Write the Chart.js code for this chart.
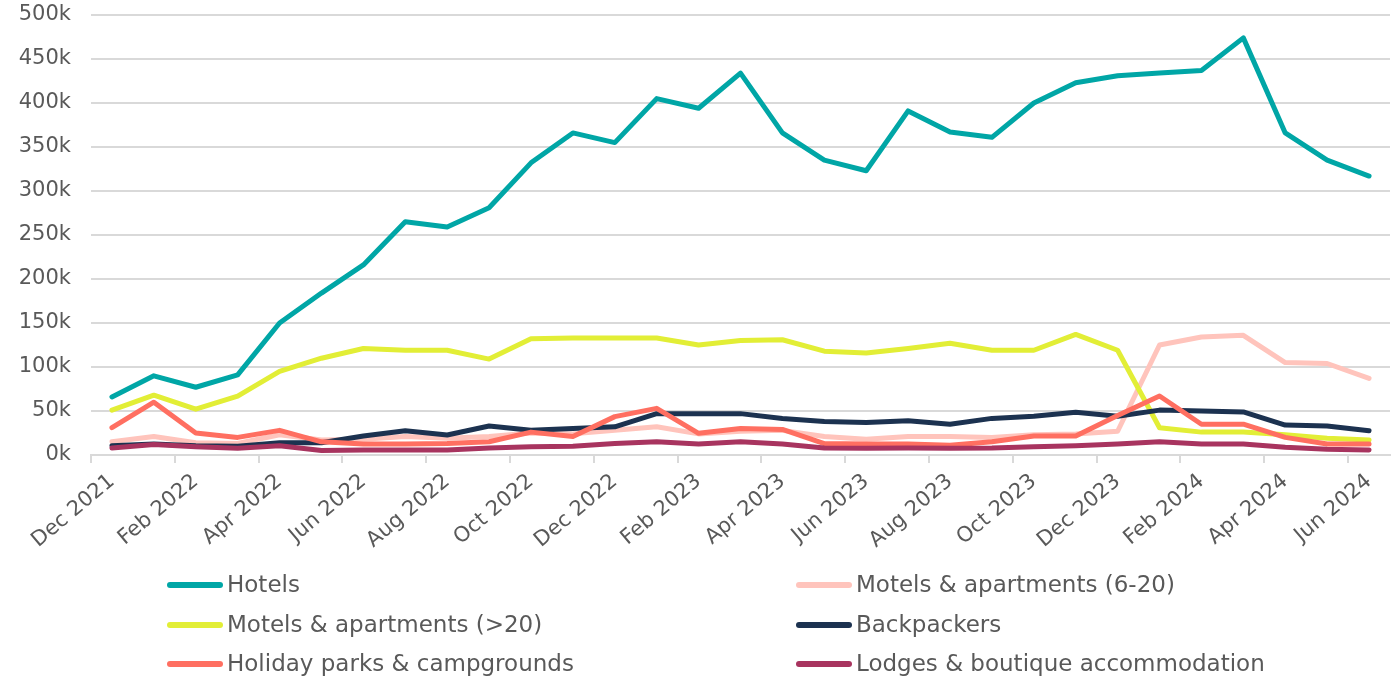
<!DOCTYPE html>
<html>
<head>
<meta charset="utf-8">
<script src="https://cdn.jsdelivr.net/npm/chart.js@4/dist/chart.umd.min.js"></script>
<style>
  html, body { margin: 0; padding: 0; background: #fff; }
  #wrap { width: 1400px; height: 680px; position: relative; }
</style>
</head>
<body>
<div id="wrap"><canvas id="c" width="1400" height="680"></canvas></div>
<script>
// months, Dec 2021 .. Jun 2024
var months = ["Dec 2021","Jan 2022","Feb 2022","Mar 2022","Apr 2022","May 2022","Jun 2022","Jul 2022","Aug 2022","Sep 2022","Oct 2022","Nov 2022",
  "Dec 2022","Jan 2023","Feb 2023","Mar 2023","Apr 2023","May 2023","Jun 2023","Jul 2023","Aug 2023","Sep 2023","Oct 2023","Nov 2023",
  "Dec 2023","Jan 2024","Feb 2024","Mar 2024","Apr 2024","May 2024","Jun 2024"];

// values in thousands
var hotels = [66,90,77,91,150,184,216,265,259,281,332,366,355,405,394,434,366,335,323,391,367,361,400,423,431,434,437,474,366,335,317];
var motelsSmall = [15,21,14,13,23,17,18,21,19,21,25,24,28,32,24,27,28,21,18,21,21,20,23,24,27,125,134,136,105,104,87];
var motelsLarge = [51,68,52,67,95,110,121,119,119,109,132,133,133,133,125,130,131,118,116,121,127,119,119,137,119,31,26,26,23,19,17];
var backpackers = [10.5,12.5,10.5,10,14,14,21.6,27.6,22.7,33,28,30,32,47,47,47,41.6,38,37,39,35,41.6,44,48.5,44,51,50,49,34,33,27.6];
var holidayParks = [31,60,25,20,28,15,12.5,12.5,13,15,26,21,43.6,53,24.6,30,29,13,12.5,12.5,11,15,21.6,21.6,45,67,35,35,20,12.5,12.5];
var lodges = [8,12,9.5,7.6,10.5,5,5.7,5.7,5.7,8,9.5,10,13,15,12.5,15,12.5,8,7.6,8,7.6,8,9.5,10.5,12.5,15,12.5,12.5,8.7,6.4,5.7];

var yTicks = [0,50,100,150,200,250,300,350,400,450,500];

var seriesNames = ["Hotels","Motels & apartments (6-20)","Motels & apartments (>20)","Backpackers","Holiday parks & campgrounds","Lodges & boutique accommodation"];
var seriesData = [hotels, motelsSmall, motelsLarge, backpackers, holidayParks, lodges];
var seriesColors = ["#00A6A6","#FFC4BC","#E2EE36","#1C3250","#FF6F61","#A8345F"];

var FONT = "'DejaVu Sans', sans-serif";

function k(v) { return v * 1000; }

var datasets = seriesNames.map(function(name, i) {
  return {
    label: name,
    data: seriesData[i].map(k),
    borderColor: seriesColors[i],
    backgroundColor: seriesColors[i],
    borderWidth: 5,
    pointRadius: 0,
    tension: 0,
    borderCapStyle: 'round',
    borderJoinStyle: 'round',
    order: seriesNames.length - i
  };
});

// two-column legend under the axis
var legendPlugin = {
  id: 'twoColLegend',
  afterDraw: function(chart) {
    var c = chart.ctx;
    var cols = [167, 796];
    var rows = [585, 625, 664];
    c.save();
    c.font = "23px " + FONT;
    c.textBaseline = 'middle';
    chart.data.datasets.forEach(function(ds, i) {
      var x = cols[i % 2], y = rows[Math.floor(i / 2)];
      c.strokeStyle = ds.borderColor;
      c.lineWidth = 6;
      c.lineCap = 'round';
      c.beginPath();
      c.moveTo(x + 3, y);
      c.lineTo(x + 53, y);
      c.stroke();
      c.fillStyle = '#595959';
      c.fillText(ds.label, x + 60, y + 1);
    });
    c.restore();
  }
};

new Chart(document.getElementById('c'), {
  type: 'line',
  data: { labels: months, datasets: datasets },
  plugins: [legendPlugin],
  options: {
    responsive: false,
    animation: false,
    layout: { padding: { top: 15, right: 10, left: 0, bottom: 0 } },
    plugins: { legend: { display: false }, tooltip: { enabled: false } },
    scales: {
      x: {
        offset: true,
        afterFit: function(s) { s.height = 225; s.paddingLeft = 0; s.paddingRight = 0; },
        grid: {
          offset: true,
          drawOnChartArea: false,
          drawTicks: true,
          tickLength: 8,
          lineWidth: 2,
          color: function(ctx) { return ctx.index % 2 === 0 ? '#d9d9d9' : 'rgba(0,0,0,0)'; }
        },
        border: { color: '#d9d9d9', width: 2 },
        ticks: {
          autoSkip: false,
          maxRotation: 40,
          minRotation: 40,
          padding: 6,
          color: '#595959',
          font: { family: FONT, size: 21 },
          callback: function(v, i) { return i % 2 === 0 ? months[i] : ''; }
        }
      },
      y: {
        min: 0,
        max: k(yTicks[yTicks.length - 1]),
        afterFit: function(s) { s.width = 91; s.paddingTop = 0; s.paddingBottom = 0; },
        afterBuildTicks: function(s) { s.ticks = yTicks.map(function(v) { return { value: k(v) }; }); },
        grid: { color: '#d9d9d9', lineWidth: 2, drawTicks: false },
        border: { display: false },
        ticks: {
          padding: 20,
          color: '#595959',
          font: { family: FONT, size: 21 },
          callback: function(v) { return (v / 1000) + 'k'; }
        }
      }
    }
  }
});
</script>
</body>
</html>
